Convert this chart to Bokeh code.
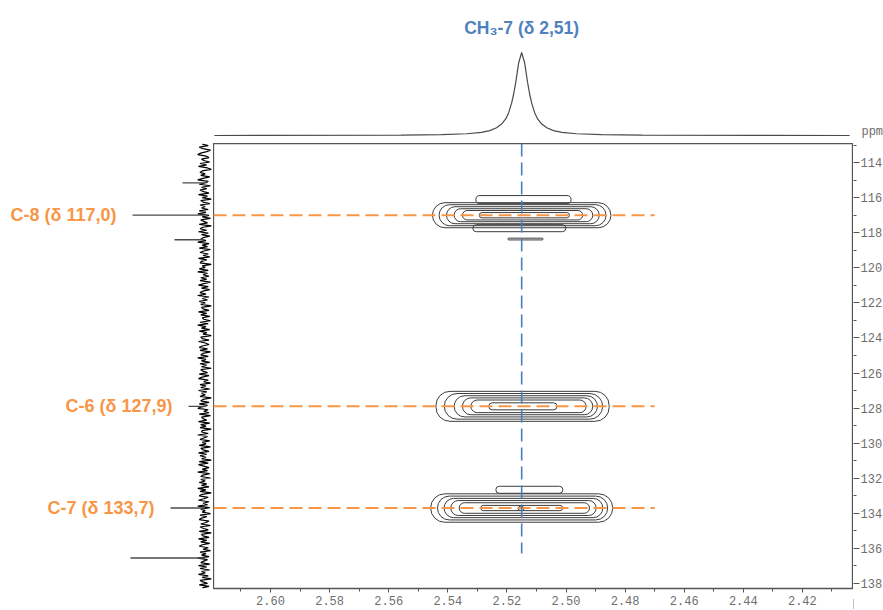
import numpy as np
from bokeh.plotting import figure
from bokeh.models import Range1d, FixedTicker, Spacer, ColumnDataSource, NumeralTickFormatter
from bokeh.layouts import column, row
from bokeh.embed import file_html
from bokeh.resources import INLINE
from bokeh.core.properties import value

# ---------------- data ----------------
x_ticks = [2.60, 2.58, 2.56, 2.54, 2.52, 2.50, 2.48, 2.46, 2.44, 2.42]
x_minor = [2.61, 2.59, 2.57, 2.55, 2.53, 2.51, 2.49, 2.47, 2.45, 2.43, 2.41]
y_ticks = [114, 116, 118, 120, 122, 124, 126, 128, 130, 132, 134, 136, 138]
y_minor = [113, 115, 117, 119, 121, 123, 125, 127, 129, 131, 133, 135, 137]
axis_unit = "ppm"

# 1H projection (top)
h_ppm = [2.619, 2.5557, 2.5421, 2.5336, 2.5286, 2.5258, 2.5235, 2.5218, 2.5204, 2.5194,
         2.5184, 2.5177, 2.5170, 2.5160, 2.5150, 2.5140, 2.5130, 2.5123, 2.5116, 2.5106,
         2.5096, 2.5082, 2.5065, 2.5042, 2.5014, 2.4964, 2.4879, 2.4743, 2.404]
h_int = [0.0, 0.004, 0.010, 0.021, 0.038, 0.059, 0.093, 0.138, 0.20, 0.275,
         0.39, 0.50, 0.64, 0.877, 1.0, 0.877, 0.64, 0.50, 0.39, 0.275,
         0.20, 0.138, 0.093, 0.059, 0.038, 0.021, 0.010, 0.004, 0.0]
h_label = "CH\u2083-7 (\u03b4 2,51)"
h_shift = 2.515
h_line_end = 136.3

# 13C projection (left): baseline noise read as well as possible
c_noise = [
    0.03, -0.05, 0.07, 0.02, -0.08, -0.03, 0.05, 0.09, -0.02, -0.06, 0.04, 0.01, -0.07, 0.06, -0.03,
    0.08, -0.04, -0.09, 0.03, 0.06, -0.01, 0.05, -0.07, 0.02, 0.09, -0.05, -0.02, 0.07, -0.08, 0.04,
    -0.03, 0.06, 0.01, -0.06, 0.08, -0.04, 0.03, -0.09, 0.05, 0.02, -0.07, 0.06, -0.01, 0.04, -0.05,
    0.07, -0.02, 0.09, -0.06, 0.03, -0.08, 0.05, 0.01, -0.04, 0.07, -0.09, 0.02, 0.06, -0.03, 0.08,
    -0.05, 0.04, -0.07, 0.02, 0.05, -0.02, 0.09, -0.06, 0.03, -0.04, 0.07, -0.08, 0.01, 0.06, -0.05,
    0.02, -0.07, 0.08, -0.03, 0.04, 0.06, -0.09, 0.03, -0.01, 0.07, -0.05, 0.09, -0.04, 0.02, -0.06,
    0.05, -0.03, 0.06, -0.08, 0.01, 0.08, -0.05, 0.04, -0.07, 0.02, 0.06, -0.02, 0.09, -0.06, 0.03,
    -0.04, 0.07, -0.01, 0.05, -0.09, 0.04, 0.02, -0.06, 0.08, -0.03, 0.05, -0.07, 0.03, 0.01, -0.08,
    0.06, -0.05, 0.09, -0.02, 0.04, -0.07, 0.07, -0.03, 0.02, -0.09, 0.05, 0.03, -0.06, 0.08, -0.01,
    -0.06, 0.03, 0.07, -0.04, 0.06, -0.08, 0.02, 0.05, -0.05, 0.09, -0.02, 0.04, -0.07, 0.06, -0.03,
    0.04, -0.09, 0.05, 0.02, -0.04, 0.07, -0.06, 0.03, 0.08, -0.05, 0.01, -0.08, 0.06, -0.02, 0.05,
    -0.07, 0.08, -0.03, 0.04, -0.01, 0.06, -0.09, 0.02, 0.05, -0.06, 0.07, -0.04, 0.03, 0.09, -0.05,
    0.01, -0.06, 0.07, -0.08, 0.04, 0.02, -0.03, 0.08, -0.07, 0.05, -0.02, 0.06, -0.09, 0.03, 0.04,
    -0.05, 0.09, -0.04, 0.01, 0.06, -0.07, 0.03, -0.02, 0.07, -0.08, 0.05, 0.02, -0.06, 0.08, -0.03,
    0.06, -0.02, 0.04, -0.09, 0.07, -0.05, 0.08, 0.01, -0.06, 0.03, -0.04, 0.09, -0.07, 0.02, 0.05,
    -0.08, 0.05, -0.01, 0.07, -0.03, 0.04, -0.06, 0.09, -0.02, 0.06, -0.09, 0.03, 0.07, -0.05, 0.01,
    0.08, -0.06, 0.02, -0.04, 0.09, -0.07, 0.05, -0.01, 0.03, -0.08, 0.06, -0.03, 0.04, 0.07, -0.06,
    -0.02, 0.05, -0.08, 0.06, 0.01, -0.05, 0.07, -0.09, 0.04, 0.02, -0.06, 0.08, -0.03, 0.05, -0.07,
    0.03, 0.07, -0.05, 0.02, -0.08, 0.06, -0.02, 0.04, -0.06, 0.09, -0.04, 0.01, 0.05, -0.07, 0.08,
    -0.03, 0.06, -0.07, 0.04, -0.01, 0.08, -0.05, 0.03, -0.09, 0.06, 0.02, -0.04, 0.07, -0.06, 0.03,
]
c_ppm_start, c_ppm_end = 112.95, 138.25

carbon_labels = ["C-8 (\u03b4 117,0)", "C-6 (\u03b4 127,9)", "C-7 (\u03b4 133,7)"]
carbon_shifts = [117.0, 127.9, 133.7]
carbon_int = [0.96, 0.213, 0.453]
other_shifts = [115.16, 118.4, 136.55]
other_int = [0.293, 0.40, 0.987]
hline_end = 2.47

# contour rings per cross-peak (centre ppm, width ppm, height ppm)
c8_ring_x = [2.5150, 2.5147, 2.5146, 2.5144, 2.5147, 2.5141]
c8_ring_w = [0.0604, 0.0565, 0.0517, 0.0469, 0.0407, 0.0305]
c8_ring_h = [1.43, 1.20, 0.97, 0.74, 0.54, 0.30]
c6_ring_x = [2.5147, 2.5144, 2.5136, 2.5130, 2.5127, 2.5146]
c6_ring_w = [0.0586, 0.0536, 0.0485, 0.0441, 0.0390, 0.0231]
c6_ring_h = [1.71, 1.46, 1.21, 0.96, 0.72, 0.40]
c7_ring_x = [2.5150, 2.5147, 2.5144, 2.5144, 2.5141, 2.5150]
c7_ring_w = [0.0616, 0.0576, 0.0537, 0.0492, 0.0441, 0.0277]
c7_ring_h = [1.62, 1.36, 1.10, 0.85, 0.60, 0.30]
lobe_x = [2.5144, 2.5158, 2.5137, 2.5124, 2.5152]
lobe_y = [116.11, 117.74, 118.36, 132.66, 133.72]
lobe_w = [0.0322, 0.0315, 0.0119, 0.0227, 0.0020]
lobe_h = [0.46, 0.40, 0.10, 0.40, 0.23]

# ---------------- styling ----------------
ORANGE = "#F79646"
BLUE_TXT = "#4F81BD"
BLUE_LINE = "#4A7EBB"
AX = "#555555"
TICK_TXT = "#6e6e6e"
MONO = "Liberation Mono"

x_range = Range1d(2.6193, 2.4027)
y_range = Range1d(138.29, 112.91)
PX_PER_PPM = 2950.0

FRAME_W, FRAME_H = 640, 445
RB = 30          # right strip (F1 axis)
BB = 22          # bottom border (F2 axis)
LEFT_W, TOP_H = 213, 143
RY_BOTTOM = 7    # room under the F1 axis for its last label
UNIT_H = BB - RY_BOTTOM


def bare(fig):
    fig.xgrid.visible = False
    fig.ygrid.visible = False
    fig.outline_line_color = None


def style_axis(ax, tick_out, minor_out, standoff):
    ax.axis_line_color = AX
    ax.axis_line_width = 1.3
    ax.major_tick_line_color = AX
    ax.minor_tick_line_color = AX
    ax.major_tick_in = 0
    ax.minor_tick_in = 0
    ax.major_tick_out = tick_out
    ax.minor_tick_out = minor_out
    ax.major_label_standoff = standoff
    ax.major_label_text_font = MONO
    ax.major_label_text_font_size = "12px"
    ax.major_label_text_color = TICK_TXT


# main 2D frame with the F2 axis below
p = figure(width=FRAME_W, height=FRAME_H + BB, x_range=x_range, y_range=y_range,
           output_backend="svg", toolbar_location=None, y_axis_location=None,
           x_axis_location="below", min_border=0, min_border_bottom=BB)
bare(p)
p.outline_line_color = AX
p.outline_line_width = 1.3
p.xaxis.ticker = FixedTicker(ticks=x_ticks, minor_ticks=x_minor)
p.xaxis.formatter = NumeralTickFormatter(format="0.00")
style_axis(p.xaxis[0], 4, 3, 3)
p.xaxis.axis_line_color = None

rx, ry_, rw, rh = [], [], [], []
for xs, ws, hs, c in [(c8_ring_x, c8_ring_w, c8_ring_h, carbon_shifts[0]),
                      (c6_ring_x, c6_ring_w, c6_ring_h, carbon_shifts[1]),
                      (c7_ring_x, c7_ring_w, c7_ring_h, carbon_shifts[2])]:
    rx += xs; rw += ws; rh += hs; ry_ += [c] * len(xs)
rx += lobe_x; ry_ += lobe_y; rw += lobe_w; rh += lobe_h
rings = ColumnDataSource(dict(x=rx, y=ry_, w=rw, h=rh))
p.rect(x="x", y="y", width="w", height="h", source=rings, fill_color=None,
       line_color="#3c3c3c", line_width=1.0, border_radius=14)

p.segment(x0=[x_range.start] * 3, y0=carbon_shifts, x1=[hline_end] * 3, y1=carbon_shifts,
          line_color=ORANGE, line_width=2, line_dash="13 6")
p.segment(x0=[h_shift], y0=[y_range.end], x1=[h_shift], y1=[h_line_end],
          line_color=BLUE_LINE, line_width=1.6, line_dash="13 6")

# F1 axis strip to the right of the frame (shares the y range)
ry = figure(width=RB, height=FRAME_H + RY_BOTTOM, x_range=Range1d(0, 1), y_range=y_range,
            output_backend="svg", toolbar_location=None, x_axis_location=None,
            y_axis_location="right", min_border=0, min_border_right=RB - 1,
            min_border_bottom=RY_BOTTOM)
bare(ry)
ry.yaxis.ticker = FixedTicker(ticks=y_ticks, minor_ticks=y_minor)
style_axis(ry.yaxis[0], 6, 3, 1)
ry.yaxis.axis_line_color = None

# unit of the F2 axis, right of its last tick label
pp = figure(width=RB, height=UNIT_H, x_range=Range1d(0, RB), y_range=Range1d(0, UNIT_H),
            output_backend="svg", toolbar_location=None, x_axis_location=None,
            y_axis_location=None, min_border=0)
bare(pp)
pp.text(x=[5], y=[UNIT_H / 2], text=[axis_unit], text_align="left", text_baseline="middle",
        text_font=value(MONO), text_font_size="12px", text_color=TICK_TXT)

# top 1H projection: frame runs over the right strip too, same px/ppm scale
top_x_range = Range1d(x_range.start, x_range.end - RB / PX_PER_PPM)
top = figure(width=FRAME_W + RB, height=TOP_H, x_range=top_x_range,
             y_range=Range1d(-8 / 83, (TOP_H - 8) / 83),
             output_backend="svg", toolbar_location=None, x_axis_location=None,
             y_axis_location=None, min_border=0)
bare(top)
top.line(h_ppm, h_int, line_color="#4a4a4a", line_width=1.2)
top.text(x=[h_shift], y=[max(h_int)], text=[h_label], y_offset=-25, text_align="center",
         text_baseline="middle", text_font=value("Liberation Sans"), text_font_style="bold",
         text_font_size="17.5px", text_color=BLUE_TXT)
top.text(x=[x_range.end], y=[0], text=[axis_unit], x_offset=8, y_offset=-4, text_align="left",
         text_baseline="middle", text_font=value(MONO), text_font_size="12px",
         text_color=TICK_TXT)

# left 13C projection
c_ppm = np.linspace(c_ppm_start, c_ppm_end, len(c_noise))
left = figure(width=LEFT_W, height=FRAME_H + BB, x_range=Range1d(204 / 75, -9 / 75), y_range=y_range,
              output_backend="svg", toolbar_location=None, x_axis_location=None,
              y_axis_location=None, min_border=0, min_border_bottom=BB)
bare(left)
left.line(c_noise, c_ppm, line_color="black", line_width=1.2)
left.segment(x0=[0] * 3, y0=other_shifts, x1=other_int, y1=other_shifts,
             line_color="#4a4a4a", line_width=1.3)
left.segment(x0=[0] * 3, y0=carbon_shifts, x1=carbon_int, y1=carbon_shifts,
             line_color="#4a4a4a", line_width=1.3)
left.text(x=carbon_int, y=carbon_shifts, text=carbon_labels, x_offset=-16, text_align="right",
          text_baseline="middle", text_font=value("Liberation Sans"), text_font_style="bold",
          text_font_size="18px", text_color=ORANGE)

layout = column(row(Spacer(width=LEFT_W, height=TOP_H), top),
                row(left, p, column(ry, pp)))

html = file_html(layout, INLINE)
html = html.replace("<head>", "<head><style>html,body{overflow:hidden;}</style>", 1)
open("out.html", "w").write(html)
